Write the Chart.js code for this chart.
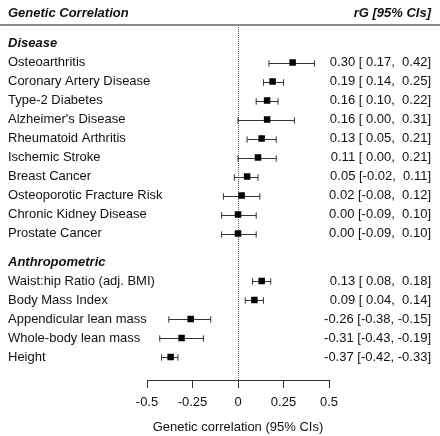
<!DOCTYPE html>
<html>
<head>
<meta charset="utf-8">
<script src="https://cdn.jsdelivr.net/npm/chart.js@4/dist/chart.umd.min.js"></script>
<style>
  html, body { margin: 0; padding: 0; background: #fff; overflow: hidden; }
  canvas { display: block; }
</style>
</head>
<body>
<canvas id="forestChart" width="440" height="436" style="width:440px;height:436px"></canvas>
<script>
// Forest plot data: genetic correlations with 95% CIs
const sections = ['Disease', 'Anthropometric'];
const traits = [
    'Osteoarthritis', 'Coronary Artery Disease', 'Type-2 Diabetes', "Alzheimer's Disease",
    'Rheumatoid Arthritis', 'Ischemic Stroke', 'Breast Cancer', 'Osteoporotic Fracture Risk',
    'Chronic Kidney Disease', 'Prostate Cancer',
    'Waist:hip Ratio (adj. BMI)', 'Body Mass Index', 'Appendicular lean mass',
    'Whole-body lean mass', 'Height'
];
const traitSection = [0, 0, 0, 0, 0, 0, 0, 0, 0, 0, 1, 1, 1, 1, 1];
const rG = [0.30, 0.19, 0.16, 0.16, 0.13, 0.11, 0.05, 0.02, 0.00, 0.00, 0.13, 0.09, -0.26, -0.31, -0.37];
const ciLow = [0.17, 0.14, 0.10, 0.00, 0.05, 0.00, -0.02, -0.08, -0.09, -0.09, 0.08, 0.04, -0.38, -0.43, -0.42];
const ciHigh = [0.42, 0.25, 0.22, 0.31, 0.21, 0.21, 0.11, 0.12, 0.10, 0.10, 0.18, 0.14, -0.15, -0.19, -0.33];
const xTicks = [-0.5, -0.25, 0, 0.25, 0.5];

const FONT = "'Liberation Sans', Arial, sans-serif";

// row positions (in row units): section header one row above its traits, 1.5 row gap between sections
const sectionPos = [];
const traitPos = [];
let row = 0;
let lastSection = -1;
traits.forEach(function (t, i) {
    if (traitSection[i] !== lastSection) {
        if (lastSection !== -1) row += 0.5;
        sectionPos[traitSection[i]] = row;
        row += 1;
        lastSection = traitSection[i];
    }
    traitPos.push(row);
    row += 1;
});

function fmt(v) {
    const s = v.toFixed(2);
    return v < 0 ? s : ' ' + s;
}
const ciText = traits.map((t, i) => rG[i].toFixed(2) + ' [' + fmt(ciLow[i]) + ', ' + fmt(ciHigh[i]) + ']');

// zero reference line + CI whiskers
const whiskerPlugin = {
    id: 'whiskers',
    beforeDatasetsDraw(chart) {
        const ctx = chart.ctx;
        const x = chart.scales.x;
        const y = chart.scales.y;
        const area = chart.chartArea;

        ctx.save();
        ctx.strokeStyle = '#555';
        ctx.lineWidth = 1;
        ctx.setLineDash([1, 1]);
        const x0 = Math.round(x.getPixelForValue(0)) + 0.5;
        ctx.beginPath();
        ctx.moveTo(x0, area.top);
        ctx.lineTo(x0, area.bottom);
        ctx.stroke();
        ctx.setLineDash([]);

        ctx.strokeStyle = '#333';
        traits.forEach(function (t, i) {
            const py = Math.round(y.getPixelForValue(traitPos[i])) + 0.5;
            const xl = x.getPixelForValue(ciLow[i]);
            const xh = x.getPixelForValue(ciHigh[i]);
            ctx.beginPath();
            ctx.moveTo(xl, py);
            ctx.lineTo(xh, py);
            ctx.moveTo(xl, py - 3.2);
            ctx.lineTo(xl, py + 3.2);
            ctx.moveTo(xh, py - 3.2);
            ctx.lineTo(xh, py + 3.2);
            ctx.stroke();
        });
        ctx.restore();
    }
};

// row labels, section headings, column headers
const labelPlugin = {
    id: 'rowLabels',
    afterDraw(chart) {
        const ctx = chart.ctx;
        const y = chart.scales.y;
        const W = chart.width;
        ctx.save();
        ctx.fillStyle = '#111';
        ctx.textBaseline = 'middle';

        ctx.font = 'italic bold 13px ' + FONT;
        ctx.textAlign = 'left';
        ctx.fillText('Genetic Correlation', 8, 13);
        ctx.textAlign = 'right';
        ctx.fillText('rG [95% CIs]', W - 9, 13);

        ctx.strokeStyle = '#8a8a8a';
        ctx.lineWidth = 2;
        ctx.beginPath();
        ctx.moveTo(0, 25);
        ctx.lineTo(W, 25);
        ctx.stroke();

        ctx.textAlign = 'left';
        sections.forEach(function (s, k) {
            ctx.fillText(s, 8, y.getPixelForValue(sectionPos[k]));
        });

        ctx.font = '13px ' + FONT;
        traits.forEach(function (t, i) {
            const py = y.getPixelForValue(traitPos[i]);
            ctx.textAlign = 'left';
            ctx.fillText(t, 8, py);
            ctx.textAlign = 'right';
            ctx.fillText(ciText[i], W - 9, py);
        });
        ctx.restore();
    }
};

new Chart(document.getElementById('forestChart').getContext('2d'), {
    type: 'scatter',
    data: {
        datasets: [{
            data: traits.map((t, i) => ({ x: rG[i], y: traitPos[i] })),
            pointStyle: 'rect',
            pointRadius: 4.6,
            pointHoverRadius: 4.6,
            backgroundColor: '#000',
            borderWidth: 0,
        }]
    },
    options: {
        responsive: false,
        devicePixelRatio: 1,
        animation: false,
        layout: {
            padding: { left: 147, right: 111, top: 27, bottom: 0 }
        },
        scales: {
            x: {
                type: 'linear',
                min: -0.5,
                max: 0.5,
                afterFit(scale) { scale.height = 56; }, // fixed height so plot area ends at axis line
                afterBuildTicks(scale) { scale.ticks = xTicks.map(v => ({ value: v })); },
                border: { display: true, color: '#333', width: 1 },
                grid: {
                    drawOnChartArea: false,
                    drawTicks: true,
                    tickLength: 8,
                    color: '#333',
                },
                ticks: {
                    color: '#111',
                    padding: 7,
                    font: { size: 13, family: FONT },
                    callback: v => String(Math.round(v * 100) / 100),
                },
                title: {
                    display: true,
                    text: 'Genetic correlation (95% CIs)',
                    color: '#111',
                    padding: { top: 0, bottom: 1 },
                    font: { size: 13, family: FONT },
                }
            },
            y: {
                type: 'linear',
                display: false,
                reverse: true,
                min: -16.5 / 19,
                max: -16.5 / 19 + 353 / 19,
            }
        },
        plugins: {
            legend: { display: false },
            tooltip: { enabled: false },
        }
    },
    plugins: [whiskerPlugin, labelPlugin]
});
</script>
</body>
</html>
